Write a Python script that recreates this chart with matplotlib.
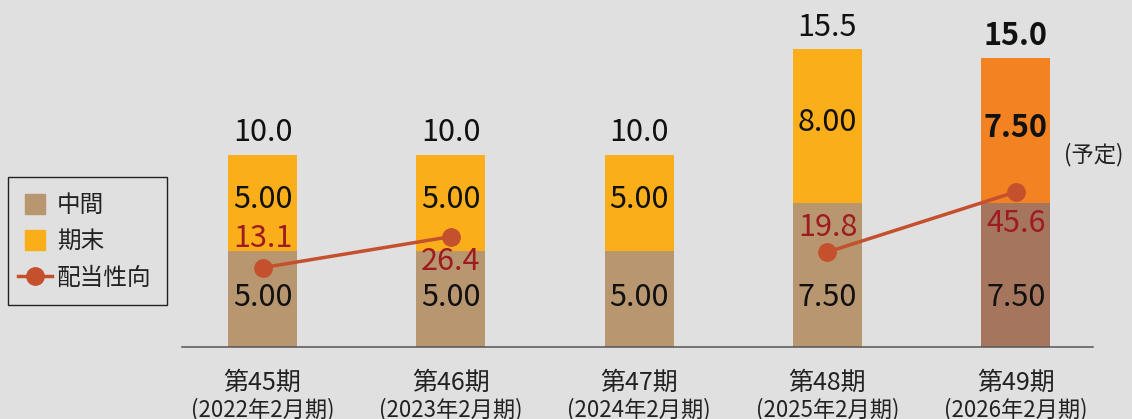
import numpy as np
import matplotlib
matplotlib.use("Agg")
import matplotlib.pyplot as plt
from matplotlib.lines import Line2D
from matplotlib.patches import Rectangle

plt.rcParams['font.family'] = ['Noto Sans CJK JP', 'DejaVu Sans']

# ── Data ─────────────────────────────────────────────────────────────────────
periods = ["第45期", "第46期", "第47期", "第48期", "第49期"]
fiscal = ["(2022年2月期)", "(2023年2月期)", "(2024年2月期)",
          "(2025年2月期)", "(2026年2月期)"]
interim = [5.00, 5.00, 5.00, 7.50, 7.50]
year_end = [5.00, 5.00, 5.00, 8.00, 7.50]
payout = [13.1, 26.4, np.nan, 19.8, 45.6]

# ── Style ────────────────────────────────────────────────────────────────────
BG = "#e0e0e0"
C_INTERIM = "#b8966f"
C_YEAREND = "#f9ae1a"
C_INTERIM_F = "#a5765d"   # forecast bar
C_YEAREND_F = "#f28222"
C_LINE = "#c5502e"
C_PAYOUT_TXT = "#9e1b22"

W, H = 1132, 419
fig = plt.figure(figsize=(W / 100, H / 100), dpi=100, facecolor=BG)
ax = fig.add_axes([182 / W, (H - 347) / H, (1093 - 182) / W, 347 / H])
ax.set_facecolor(BG)
ax2 = ax.twinx()

x = np.arange(len(periods))
totals = [a + b for a, b in zip(interim, year_end)]
forecast = [False, False, False, False, True]

bottom_colors = [C_INTERIM_F if f else C_INTERIM for f in forecast]
top_colors = [C_YEAREND_F if f else C_YEAREND for f in forecast]

ax.bar(x, interim, width=0.366, color=bottom_colors, zorder=2)
ax.bar(x, year_end, width=0.366, bottom=interim, color=top_colors, zorder=2)

ax.set_xlim(-0.4275, 4.41)
ax.set_ylim(0, 18.04)
ax2.set_ylim(-20.94, 127.9)

for a in (ax, ax2):
    for s in ("top", "right", "left"):
        a.spines[s].set_visible(False)
    a.set_yticks([])
ax2.spines["bottom"].set_visible(False)
ax.spines["bottom"].set_color("#555555")
ax.spines["bottom"].set_linewidth(1.1)
ax.set_xticks([])

# bar value labels
for i in range(len(x)):
    w = "bold" if forecast[i] else "normal"
    ax.annotate(f"{totals[i]:.1f}", (x[i], totals[i]), xytext=(0, 9.5),
                textcoords="offset points", ha="center", va="baseline",
                fontsize=22, fontweight=w, color="#111111", zorder=5)
    ax.text(x[i], interim[i] + year_end[i] / 2 + 0.15, f"{year_end[i]:.2f}",
            ha="center", va="center", fontsize=22, fontweight=w,
            color="#111111", zorder=5)
    ax.text(x[i], 2.55, f"{interim[i]:.2f}", ha="center", va="center",
            fontsize=22, color="#111111", zorder=5)

# payout ratio line
ax2.plot(x, payout, color=C_LINE, linewidth=2.5, marker="o", markersize=12.5,
         zorder=4)
label_dy = [21, -18, 0, 18, -23]
for i, v in enumerate(payout):
    if np.isnan(v):
        continue
    ax2.annotate(f"{v:.1f}", (x[i], v), xytext=(0, label_dy[i]),
                 textcoords="offset points", ha="center", va="center",
                 fontsize=22, color=C_PAYOUT_TXT, zorder=6)

# category labels
for i in range(len(x)):
    ax.annotate(periods[i], (x[i], 0), xycoords=("data", "axes fraction"),
                xytext=(0, -26), textcoords="offset points", ha="center",
                va="center", fontsize=18, color="#222222")
    ax.annotate(fiscal[i], (x[i], 0), xycoords=("data", "axes fraction"),
                xytext=(0, -45), textcoords="offset points", ha="center",
                va="center", fontsize=16, color="#222222", annotation_clip=False)

fig.text(1094 / W, 1 - 155 / H, "(予定)", ha="center", va="center",
         fontsize=16, color="#222222")

# legend (frame drawn separately)
handles = [
    Line2D([], [], color=C_INTERIM, linestyle="none", marker="s",
           markersize=15, label="中間"),
    Line2D([], [], color=C_YEAREND, linestyle="none", marker="s",
           markersize=15, label="期末"),
    Line2D([], [], color=C_LINE, linewidth=2.5, marker="o", markersize=12.5,
           label="配当性向"),
]
leg = fig.legend(handles=handles, loc="upper left",
                 bbox_to_anchor=(8 / W, 1 - 184 / H), borderaxespad=0,
                 fontsize=17, frameon=False, handlelength=1.44,
                 handletextpad=0.2, labelspacing=0.565, borderpad=0.42)
for t in leg.get_texts():
    t.set_color("#222222")
fig.patches.append(Rectangle((8 / W, 1 - 305 / H), 159 / W, 128 / H,
                             transform=fig.transFigure, facecolor="none",
                             edgecolor="#222222", linewidth=1.0))

fig.savefig("out.png", dpi=100, facecolor=BG)
